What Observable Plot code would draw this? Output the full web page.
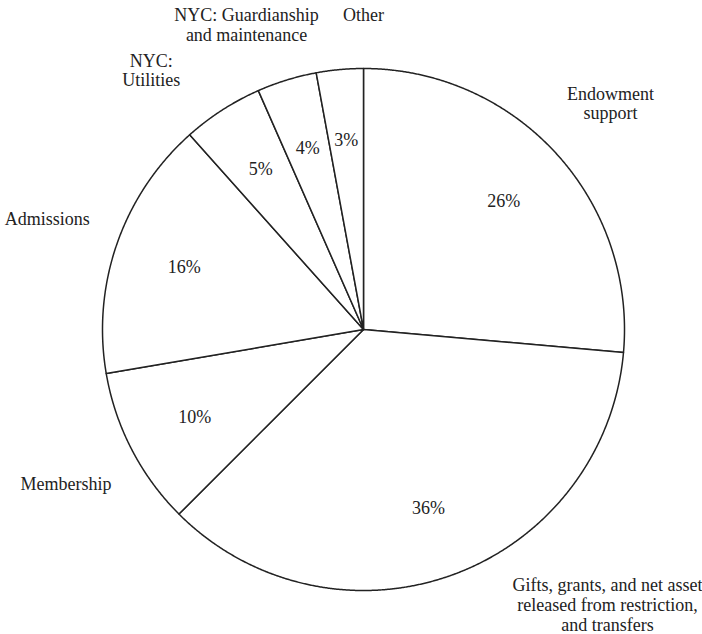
<!DOCTYPE html>
<html>
<head>
<meta charset="utf-8">
<script src="https://cdn.jsdelivr.net/npm/d3@7"></script>
<script src="https://cdn.jsdelivr.net/npm/@observablehq/plot@0.6"></script>
<style>
  html, body { margin: 0; padding: 0; background: #fff; }
  #chart svg { display: block; }
</style>
</head>
<body>
<div id="chart"></div>
<script>
// ---- data ----
const categories = [
  "Endowment support",
  "Gifts, grants, and net asset released from restriction, and transfers",
  "Membership",
  "Admissions",
  "NYC: Utilities",
  "NYC: Guardianship and maintenance",
  "Other"
];
const displayLabels = [
  "Endowment\nsupport",
  "Gifts, grants, and net asset\nreleased from restriction,\nand transfers",
  "Membership",
  "Admissions",
  "NYC:\nUtilities",
  "NYC: Guardianship\nand maintenance",
  "Other"
];
const values = [26.4, 36.1, 9.8, 16.1, 5.0, 3.7, 2.9];
const percentLabels = ["26%", "36%", "10%", "16%", "5%", "4%", "3%"];

// ---- layout ----
const W = 702, H = 634;
const cx = 363, cy = 329, R = 261;
const rPct = 190, rOut = 335;
const FS = 18, LH = 1.1;
const FONT = '"Liberation Serif", "Times New Roman", serif';
const INK = "#222";

const rows = categories.map((c, i) => ({
  category: c, label: displayLabels[i], value: values[i], pct: percentLabels[i]
}));
const arcs = d3.pie().sort(null).value(d => d.value)(rows);

// wedge outlines (data units == pixels, origin at pie centre, y up)
const wedgePts = [];
arcs.forEach((a, i) => {
  wedgePts.push({k: i, x: 0, y: 0});
  const n = Math.max(2, Math.ceil((a.endAngle - a.startAngle) / 0.004));
  for (let s = 0; s <= n; s++) {
    const t = a.startAngle + (a.endAngle - a.startAngle) * s / n;
    wedgePts.push({k: i, x: R * Math.sin(t), y: R * Math.cos(t)});
  }
  wedgePts.push({k: i, x: 0, y: 0});
});

const mid = a => (a.startAngle + a.endAngle) / 2;
const pctPts = arcs.map(a => ({
  text: a.data.pct, x: rPct * Math.sin(mid(a)), y: rPct * Math.cos(mid(a))
}));

// outer labels: at mid-angle on a label ring, kept in frame, clear of pie,
// neighbours spread apart along the ring (but never beyond their own slice)
const ctx = document.createElement("canvas").getContext("2d");
ctx.font = `${FS}px ${FONT}`;
const pad = 4, gapX = 24, gapY = 6;
const clampBox = b => {
  b.x = Math.min(Math.max(b.x, b.w / 2 + pad), W - b.w / 2 - pad);
  b.y = Math.min(Math.max(b.y, b.h / 2 + pad), H - b.h / 2 - pad);
};
const place = b => {
  b.ang = Math.min(Math.max(b.ang, b.a0), b.a1);
  b.x = cx + rOut * Math.sin(b.ang);
  b.y = cy - rOut * Math.cos(b.ang);
  clampBox(b);
};
const hitsPie = b => {
  const nx = Math.min(Math.max(cx, b.x - b.w / 2), b.x + b.w / 2);
  const ny = Math.min(Math.max(cy, b.y - b.h / 2), b.y + b.h / 2);
  return Math.hypot(nx - cx, ny - cy) < R + 6;
};
const boxes = arcs.map(a => {
  const lines = a.data.label.split("\n");
  const w = Math.max(...lines.map(l => ctx.measureText(l).width));
  const h = lines.length * FS * LH;
  const b = {text: a.data.label, w, h, ang: mid(a), a0: a.startAngle, a1: a.endAngle, fixed: false};
  place(b);
  if (hitsPie(b)) {            // no room on the ring: move to nearest corner
    const x0 = cx + rOut * Math.sin(b.ang), y0 = cy - rOut * Math.cos(b.ang);
    b.x = x0 > W / 2 ? W - b.w / 2 : b.w / 2;
    b.y = y0 > H / 2 ? H - b.h / 2 : b.h / 2;
    b.fixed = true;
  }
  return b;
});
const overlap = (A, B) =>
  Math.abs(A.x - B.x) < (A.w + B.w) / 2 + gapX &&
  Math.abs(A.y - B.y) < (A.h + B.h) / 2 + gapY;
for (let it = 0; it < 3000; it++) {
  let moved = false;
  for (let i = 0; i < boxes.length; i++) {
    for (let j = i + 1; j < boxes.length; j++) {
      const A = boxes[i], B = boxes[j];
      if (A.fixed || B.fixed || !overlap(A, B)) continue;
      const [lo, hi] = A.ang < B.ang ? [A, B] : [B, A];
      lo.ang -= 0.002; hi.ang += 0.002;
      place(lo); place(hi);
      moved = true;
    }
  }
  if (!moved) break;
}
const outPts = boxes.map(b => ({text: b.text, x: b.x - cx, y: cy - b.y}));

const chart = Plot.plot({
  width: W,
  height: H,
  margin: 0,
  x: {domain: [-cx, W - cx], range: [0, W], axis: null},
  y: {domain: [-(H - cy), cy], range: [H, 0], axis: null},
  style: {fontFamily: FONT, background: "#fff"},
  marks: [
    Plot.line(wedgePts, {
      x: "x", y: "y", z: "k",
      fill: "white", stroke: INK, strokeWidth: 1.5,
      strokeLinejoin: "round", curve: "linear"
    }),
    Plot.text(pctPts, {
      x: "x", y: "y", text: "text", fontFamily: FONT,
      fontSize: FS, fill: INK, textAnchor: "middle", lineAnchor: "middle"
    }),
    Plot.text(outPts, {
      x: "x", y: "y", text: "text", fontFamily: FONT,
      fontSize: FS, fill: INK, textAnchor: "middle", lineAnchor: "middle",
      lineHeight: LH
    })
  ]
});
document.getElementById("chart").appendChild(chart);
</script>
</body>
</html>
